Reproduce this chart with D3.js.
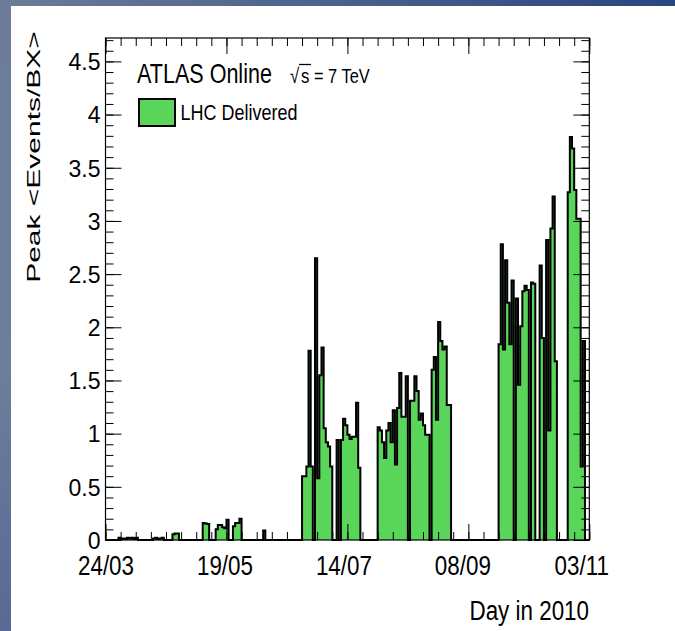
<!DOCTYPE html>
<html>
<head>
<meta charset="utf-8">
<script src="https://cdn.jsdelivr.net/npm/d3@7/dist/d3.min.js"></script>
<style>
body { margin: 0; }
text { font-family: "Liberation Sans", Arial, sans-serif; fill: #000; }
</style>
</head>
<body>
<div id="chart"></div>
<script>
// Data: day offset from 24/03/2010 and peak <Events/BX> of that day
var bin_day = [
    6, 7, 8, 9, 10, 11, 12, 13, 14,
    22, 23, 24, 25, 26,
    31, 32, 33,
    45, 46, 47,
    51, 52, 53, 54, 55, 56,
    59, 60, 61, 62,
    73,
    91, 92, 93, 94, 95, 96, 97, 98, 99, 100, 101, 102, 103, 104,
    107, 109, 110, 111, 112, 113, 114, 115, 116, 117,
    126, 127, 128, 129, 130, 131, 132, 133, 134, 135, 136, 137, 138, 139,
    141, 142, 143, 144, 145, 146, 147, 148, 149,
    151, 152, 153, 154, 155, 156, 157, 158, 159,
    182, 183, 184, 185, 186, 187, 188, 189, 190, 191, 192, 193, 194, 195,
    196, 197, 198, 199, 200, 201, 202, 203, 204, 205, 206, 207, 208,
    214, 215, 216, 217, 218, 219, 220, 221
];
var peak_mu = [
    0.02, 0.01, 0.015, 0.01, 0.02, 0.015, 0.02, 0.01, 0.02,
    0.015, 0.02, 0.01, 0.015, 0.02,
    0.055, 0.06, 0.06,
    0.16, 0.155, 0.15,
    0.10, 0.14, 0.14, 0.12, 0.11, 0.19,
    0.13, 0.16, 0.16, 0.20,
    0.09,
    0.60, 0.60, 0.69, 1.78, 0.69, 0, 2.65, 0.58, 1.55, 1.81, 1.05, 0.92, 0.88, 0.69,
    0.94, 0.94, 1.14, 1.08, 0.99, 0.95, 0.97, 0.97, 1.29, 0.68,
    1.06, 1.03, 0.92, 0.77, 1.03, 1.10, 0.92, 1.22, 0.71, 1.24, 1.57, 1.16, 1.16, 1.54,
    1.31, 1.31, 1.54, 1.40, 1.13, 1.19, 1.08, 0.99, 0.99,
    1.60, 1.72, 1.13, 2.05, 1.87, 1.79, 1.82, 1.27, 1.27,
    1.84, 2.78, 1.79, 2.63, 2.23, 1.84, 2.44, 0, 2.27, 1.46, 2.01, 2.34, 2.39, 2.35,
    0, 2.42, 2.41, 0, 0, 2.58, 1.90, 0, 2.82, 1.03, 2.93, 3.23, 1.68,
    3.27, 3.79, 3.68, 3.29, 3.02, 3.02, 0.69, 1.87
];
var x_labels = ['24/03', '19/05', '14/07', '08/09', '03/11'];
var y_labels = [0, 0.5, 1, 1.5, 2, 2.5, 3, 3.5, 4, 4.5];
var n_days = 224;
var y_max = 4.72;

var chart_width  = 675;
var chart_height = 631;
var frame = { left: 105.5, right: 589.3, top: 38, bottom: 540 };
var green = '#59d55a';

function day_date(d) {
    return new Date(Date.UTC(2010, 2, 24 + d));
}
var parse_label = d3.utcParse('%d/%m/%Y');

var x = d3.scaleUtc()
    .domain([ day_date(0), day_date(n_days) ])
    .range([ frame.left, frame.right ]);
var y = d3.scaleLinear()
    .domain([ 0, y_max ])
    .range([ frame.bottom, frame.top ]);

var svg = d3.select('#chart')
    .append('svg')
    .attr('width', chart_width)
    .attr('height', chart_height);

// blue slide border
var defs = svg.append('defs');
var g_top = defs.append('linearGradient').attr('id', 'g_top');
g_top.append('stop').attr('offset', '0%').attr('stop-color', '#6c7c98');
g_top.append('stop').attr('offset', '100%').attr('stop-color', '#2a4680');
var g_left = defs.append('linearGradient').attr('id', 'g_left')
    .attr('x1', 0).attr('y1', 0).attr('x2', 0).attr('y2', 1);
g_left.append('stop').attr('offset', '0%').attr('stop-color', '#6d7d99');
g_left.append('stop').attr('offset', '60%').attr('stop-color', '#6c7e9b');
g_left.append('stop').attr('offset', '100%').attr('stop-color', '#566a95');

svg.append('rect').attr('width', chart_width).attr('height', chart_height).attr('fill', 'url(#g_left)');
svg.append('rect').attr('width', chart_width).attr('height', 6).attr('fill', 'url(#g_top)');
svg.append('rect').attr('x', 11).attr('y', 6)
    .attr('width', chart_width - 11).attr('height', chart_height - 6)
    .attr('fill', '#fff');

// one value per day, zero where nothing was delivered
var daily = d3.range(n_days).map(function(d){
    var i = bin_day.indexOf(d);
    return { day: d, value: i < 0 ? 0 : peak_mu[i] };
});
daily.push({ day: n_days, value: daily[n_days - 1].value });

var area = d3.area()
    .curve(d3.curveStepAfter)
    .x(function(d){ return x(day_date(d.day)); })
    .y0(y(0))
    .y1(function(d){ return y(d.value); });
var line = d3.line()
    .curve(d3.curveStepAfter)
    .x(function(d){ return x(day_date(d.day)); })
    .y(function(d){ return y(d.value); });

svg.append('path')
    .datum(daily)
    .attr('d', area)
    .attr('fill', green);
svg.append('path')
    .datum(daily)
    .attr('d', line)
    .attr('fill', 'none')
    .attr('stroke', '#000')
    .attr('stroke-width', 2);

// axes, ticks on all four sides pointing inward
var major_dates = x_labels.map(function(s){ return parse_label(s + '/2010'); });
var minor_dates = d3.range(0, n_days + 1, 7).map(day_date);
var minor_y = d3.range(0, y_max, 0.1);

function style_axis(g) {
    g.select('.domain').remove();
    g.selectAll('.tick line').attr('stroke', '#000').attr('stroke-width', 1);
}

svg.append('g')
    .attr('transform', 'translate(0,' + frame.bottom + ')')
    .call(d3.axisBottom(x).tickValues(minor_dates).tickSizeInner(-8).tickFormat(''))
    .call(style_axis);
var x_axis = svg.append('g')
    .attr('transform', 'translate(0,' + frame.bottom + ')')
    .call(d3.axisBottom(x).tickValues(major_dates).tickSizeInner(-16).tickPadding(15)
        .tickFormat(d3.utcFormat('%d/%m')))
    .call(style_axis);
x_axis.selectAll('text')
    .attr('font-size', 28)
    .attr('font-family', '"Liberation Sans", Arial, sans-serif')
    .attr('transform', function(d, i){ return 'translate(' + (-2 * i) + ',0) scale(0.8,1)'; });

svg.append('g')
    .attr('transform', 'translate(0,' + frame.top + ')')
    .call(d3.axisTop(x).tickValues(minor_dates).tickSizeInner(-8).tickFormat(''))
    .call(style_axis);
svg.append('g')
    .attr('transform', 'translate(0,' + frame.top + ')')
    .call(d3.axisTop(x).tickValues(major_dates).tickSizeInner(-16).tickFormat(''))
    .call(style_axis);

svg.append('g')
    .attr('transform', 'translate(' + frame.left + ',0)')
    .call(d3.axisLeft(y).tickValues(minor_y).tickSizeInner(-8).tickFormat(''))
    .call(style_axis);
var y_axis = svg.append('g')
    .attr('transform', 'translate(' + frame.left + ',0)')
    .call(d3.axisLeft(y).tickValues(y_labels).tickSizeInner(-16).tickPadding(5)
        .tickFormat(function(d){ return String(d); }))
    .call(style_axis);
y_axis.selectAll('text')
    .attr('font-size', 23)
    .attr('font-family', '"Liberation Sans", Arial, sans-serif')
    .attr('dy', '0.36em');

svg.append('g')
    .attr('transform', 'translate(' + frame.right + ',0)')
    .call(d3.axisRight(y).tickValues(minor_y).tickSizeInner(-8).tickFormat(''))
    .call(style_axis);
svg.append('g')
    .attr('transform', 'translate(' + frame.right + ',0)')
    .call(d3.axisRight(y).tickValues(y_labels).tickSizeInner(-16).tickFormat(''))
    .call(style_axis);

svg.append('rect')
    .attr('x', frame.left)
    .attr('y', frame.top)
    .attr('width', frame.right - frame.left)
    .attr('height', frame.bottom - frame.top)
    .attr('fill', 'none')
    .attr('stroke', '#000')
    .attr('stroke-width', 1.2);

// titles
svg.append('text')
    .attr('transform', 'translate(589,620) scale(0.8,1)')
    .attr('text-anchor', 'end')
    .attr('font-size', 28)
    .text('Day in 2010');

svg.append('text')
    .attr('transform', 'translate(40,157) rotate(-90) scale(1,0.62)')
    .attr('text-anchor', 'middle')
    .attr('font-size', 30)
    .text('Peak <Events/BX>');

// legend
svg.append('text')
    .attr('transform', 'translate(137,83) scale(0.77,1)')
    .attr('font-size', 28)
    .text('ATLAS Online');

svg.append('text')
    .attr('transform', 'translate(290,83) scale(0.8,1)')
    .attr('font-size', 21)
    .text('\u221A');
svg.append('text')
    .attr('transform', 'translate(301,83) scale(0.8,1)')
    .attr('font-size', 21)
    .text('s');
svg.append('line')
    .attr('x1', 299).attr('x2', 311)
    .attr('y1', 64.5).attr('y2', 64.5)
    .attr('stroke', '#000').attr('stroke-width', 1.3);
svg.append('text')
    .attr('transform', 'translate(314,83) scale(0.8,1)')
    .attr('font-size', 20.5)
    .text('= 7 TeV');

svg.append('rect')
    .attr('x', 139).attr('y', 99)
    .attr('width', 36).attr('height', 27)
    .attr('fill', green)
    .attr('stroke', '#000')
    .attr('stroke-width', 2);
svg.append('text')
    .attr('transform', 'translate(180.5,120) scale(0.8,1)')
    .attr('font-size', 22.5)
    .text('LHC Delivered');
</script>
</body>
</html>
